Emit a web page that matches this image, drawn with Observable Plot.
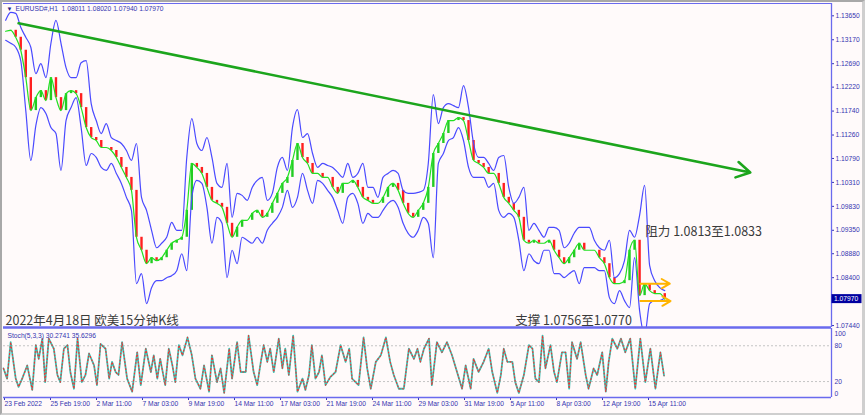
<!DOCTYPE html>
<html><head><meta charset="utf-8">
<script src="https://cdn.jsdelivr.net/npm/d3@7"></script>
<script src="https://cdn.jsdelivr.net/npm/@observablehq/plot@0.6"></script>
<style>
body{margin:0;background:#fffafa;}
#wrap{position:relative;width:865px;height:415px;background:#fffafa;overflow:hidden;font-family:"Liberation Sans",sans-serif;}
#wrap svg{position:absolute;left:0;}
#border{position:absolute;left:0;top:0;width:860px;height:411px;border-left:2px solid #a8a8a8;border-top:2px solid #a8a8a8;border-right:3px solid #cfcfcf;border-bottom:2px solid #cfcfcf;pointer-events:none;}
</style></head><body><div id="wrap"><div id="border"></div></div>
<script>
// ---- data: hourly EURUSD, one sample every 7 bars (bar index = 3 + 7*i) ----
const midPrice = [
1.1334,1.1336,1.1322,1.1296,1.1241,1.1175,1.1201,1.1215,1.1195,1.1241,
1.1201,1.1175,1.1209,1.1215,1.1209,1.1181,1.1141,1.1121,1.1115,1.1101,
1.1101,1.1095,1.1081,1.1061,1.1041,1.1015,1.0921,1.0895,1.0868,1.0880,
1.0874,1.0880,1.0895,1.0909,1.0915,1.0921,1.0975,1.1069,1.1061,1.1049,
1.1021,1.0995,1.0989,1.0981,1.0949,1.0921,1.0941,1.0955,1.0955,1.0969,
1.0975,1.0961,1.0969,1.0989,1.1009,1.1029,1.1041,1.1075,1.1109,1.1081,
1.1069,1.1049,1.1049,1.1041,1.1041,1.1021,1.1009,1.1029,1.1029,1.1035,
1.1021,1.1001,1.0995,1.0989,1.0989,1.1001,1.1021,1.1029,1.1015,1.0989,
1.0969,1.0961,1.0975,1.0989,1.1021,1.1089,1.1109,1.1129,1.1155,1.1155,
1.1161,1.1155,1.1115,1.1075,1.1069,1.1061,1.1049,1.1049,1.1029,1.1001,
1.0989,1.0975,1.0961,1.0915,1.0909,1.0915,1.0909,1.0909,1.0915,1.0895,
1.0880,1.0868,1.0880,1.0895,1.0909,1.0895,1.0895,1.0895,1.0880,1.0868,
1.0840,1.0828,1.0828,1.0834,1.0895,1.0915,1.0804,1.0828,1.0814,1.0808,
1.0808,1.0797];
const upperBand = [
1.1356,1.1372,1.1370,1.1342,1.1322,1.1302,1.1249,1.1269,1.1241,1.1310,
1.1356,1.1310,1.1261,1.1241,1.1241,1.1271,1.1275,1.1189,1.1155,1.1129,
1.1149,1.1121,1.1115,1.1109,1.1095,1.1075,1.1109,1.1001,1.0975,1.0935,
1.0900,1.0909,1.0921,1.0951,1.0935,1.0935,1.1081,1.1159,1.1109,1.1095,
1.1121,1.1081,1.1029,1.1021,1.1069,1.0961,1.1009,1.1005,1.0995,1.1021,
1.1035,1.1041,1.0995,1.1009,1.1061,1.1081,1.1055,1.1141,1.1177,1.1121,
1.1129,1.1089,1.1061,1.1069,1.1065,1.1061,1.1051,1.1041,1.1069,1.1041,
1.1049,1.1069,1.1021,1.1021,1.1001,1.1041,1.1049,1.1055,1.1049,1.1015,
1.1009,1.1009,1.1011,1.1015,1.1069,1.1207,1.1149,1.1181,1.1189,1.1185,
1.1181,1.1225,1.1181,1.1109,1.1081,1.1081,1.1069,1.1055,1.1081,1.1085,
1.1021,1.0989,1.1001,1.1021,1.0935,1.0949,1.0935,1.0921,1.0941,1.0941,
1.0935,1.0900,1.0909,1.0929,1.0941,1.0941,1.0941,1.0915,1.0900,1.0895,
1.0915,1.0840,1.0848,1.0874,1.0935,1.0921,1.0965,1.1025,1.0864,1.0834,
1.0820,1.0814];
const lowerBand = [
1.1316,1.1310,1.1302,1.1275,1.1175,1.1075,1.1145,1.1181,1.1169,1.1141,
1.1129,1.1055,1.1155,1.1181,1.1201,1.1141,1.1065,1.1089,1.1081,1.1061,
1.1055,1.1069,1.1049,1.1029,1.1001,1.0975,1.0828,1.0848,1.0788,1.0820,
1.0834,1.0834,1.0840,1.0844,1.0854,1.0888,1.0854,1.1001,1.1035,1.1029,
1.0981,1.0909,1.0961,1.0949,1.0840,1.0895,1.0868,1.0921,1.0915,1.0909,
1.0921,1.0909,1.0935,1.0949,1.0961,1.0981,1.1015,1.0981,1.1001,1.1049,
1.1015,1.0989,1.1035,1.1029,1.1015,1.1001,1.0975,1.0949,1.1001,1.1009,
1.0989,1.0949,1.0969,1.0961,1.0961,1.0975,1.0989,1.0995,1.0981,1.0949,
1.0929,1.0921,1.0935,1.0961,1.0949,1.0880,1.1069,1.1089,1.1115,1.1121,
1.1141,1.1115,1.1061,1.1041,1.1041,1.1041,1.1021,1.1029,1.0975,1.0961,
1.0969,1.0961,1.0915,1.0854,1.0888,1.0874,1.0868,1.0895,1.0895,1.0848,
1.0848,1.0840,1.0848,1.0854,1.0828,1.0860,1.0860,1.0860,1.0854,1.0854,
1.0800,1.0788,1.0814,1.0794,1.0780,1.0880,1.0774,1.0724,1.0788,1.0794,
1.0794,1.0800];

// Stochastic(5,3,3) %K: [bar index, value]
const stochK = [
[0,42],[5,25],[10,86],[17,25],[21,11],[26,25],[33,47],[40,6],[45,81],[49,58],
[54,92],[58,19],[63,92],[70,75],[75,31],[79,19],[84,75],[89,81],[93,36],[98,8],
[103,92],[109,19],[114,31],[119,67],[126,47],[130,14],[135,83],[142,75],[147,25],[151,53],
[156,36],[160,31],[165,86],[172,25],[179,3],[186,69],[191,14],[198,75],[205,36],[209,64],
[214,25],[218,58],[225,14],[230,75],[235,47],[239,19],[244,81],[249,64],[256,94],[262,64],
[267,25],[274,8],[279,47],[286,3],[290,64],[297,19],[302,42],[307,1],[314,75],[318,25],
[325,86],[330,36],[337,36],[341,97],[348,36],[353,14],[358,53],[362,81],[367,53],[371,75],
[376,36],[383,92],[388,42],[392,75],[397,31],[403,97],[409,3],[416,25],[420,6],[425,31],
[429,81],[434,25],[439,36],[443,64],[448,14],[455,28],[462,36],[469,81],[476,53],[481,75],
[485,25],[494,14],[501,94],[506,42],[511,8],[518,53],[525,64],[532,94],[538,53],[543,31],
[550,8],[557,8],[564,75],[571,58],[576,75],[580,53],[585,75],[592,92],[596,14],[603,86],
[610,69],[617,86],[624,64],[631,36],[638,8],[643,47],[650,8],[654,58],[661,36],[668,53],
[675,75],[680,36],[687,1],[692,31],[696,75],[701,53],[708,53],[712,19],[717,1],[724,31],
[731,81],[736,75],[740,25],[745,19],[750,97],[754,42],[761,81],[766,36],[770,19],[777,69],
[782,69],[787,8],[791,86],[798,58],[803,86],[810,31],[814,8],[821,42],[826,31],[833,69],
[838,3],[842,53],[847,92],[854,75],[859,92],[865,69],[872,92],[879,8],[886,92],[893,19],
[900,75],[907,8],[914,69],[919,30]];

const priceTicks = [1.13650,1.13170,1.12690,1.12220,1.11740,1.11260,1.10790,1.10310,1.09830,1.09350,1.08880,1.08400,1.07440];
const lastClose = 1.07970;
const stochTicks = [0,20,80,100];
const stochLevels = [80,20];
const dateBars = [0,64,128,192,256,320,384,448,512,576,640,704,768,832,896];
const dateLabels = ["23 Feb 2022","25 Feb 19:00","2 Mar 11:00","7 Mar 03:00","9 Mar 19:00","14 Mar 11:00","17 Mar 03:00","21 Mar 19:00","24 Mar 11:00","29 Mar 03:00","31 Mar 19:00","5 Apr 11:00","8 Apr 03:00","12 Apr 19:00","15 Apr 11:00"];
const headerText = "EURUSD#,H1  1.08011 1.08020 1.07940 1.07970";
const stochText = "Stoch(5,3,3) 30.2741 35.6296";
const titleText = "2022年4月18日 欧美15分钟K线";
const supportText = "支撑 1.0756至1.0770";
const resistText = "阻力 1.0813至1.0833";
const trendLine = [{bar1: 21, p1: 1.1350, bar2: 1039, p2: 1.1051}];
const orangeArrows = [{from: 886, to: 927, p: 1.0828}, {from: 886, to: 928, p: 1.0793}];
const supportAt = [{bar: 712}];
const resistAt = [{bar: 893, p: 1.0931}];

// ---- layout ----
const W = 865;
const BLUE = "#6a6aee", TXT = "#3434b0";
const xDomain = [0, 1152];
const yDomain = [1.07401, 1.13897];
const sDomain = [-6.7, 108.9];
const CJK = "Noto Sans CJK SC";

const samples = midPrice.map((p, i) => ({bar: 3 + 7 * i, mid: p, up: upperBand[i], lo: lowerBand[i]}));
const ribbon = samples.slice(1).map((d, i) => ({bar: d.bar, a: samples[i].mid, b: d.mid}));

const main = Plot.plot({
  width: W, height: 328, marginLeft: 3, marginRight: 34, marginTop: 3, marginBottom: 1,
  x: {domain: xDomain, axis: null},
  y: {domain: yDomain},
  style: {background: "transparent", color: TXT, fontFamily: "Liberation Sans, sans-serif", overflow: "visible"},
  marks: [
    Plot.ruleX(ribbon, {x: "bar", y1: "a", y2: "b", stroke: d => d.b >= d.a ? "#22cc22" : "#ff1f1f", strokeWidth: 2.4, clip: true}),
    Plot.lineY(samples, {x: "bar", y: "up", stroke: "#4a4aff", strokeWidth: 1.2, curve: "monotone-x", clip: true}),
    Plot.lineY(samples, {x: "bar", y: "lo", stroke: "#4a4aff", strokeWidth: 1.2, curve: "monotone-x", clip: true}),
    Plot.lineY(samples, {x: "bar", y: "mid", stroke: "#22e022", strokeWidth: 1.2, curve: "monotone-x", clip: true}),
    Plot.arrow(trendLine, {x1: "bar1", y1: "p1", x2: "bar2", y2: "p2", stroke: "#1ca51c", strokeWidth: 2.6, headLength: 9}),
    Plot.arrow(orangeArrows, {x1: "from", y1: "p", x2: "to", y2: "p", stroke: "#ffb400", strokeWidth: 2, headLength: 7}),
    Plot.text([headerText], {frameAnchor: "top-left", dx: 12, dy: 5.5, text: d => d, fontSize: 6.7, fill: TXT, textAnchor: "start", lineAnchor: "middle"}),
    Plot.text(["▼"], {frameAnchor: "top-left", dx: 3, dy: 5.5, text: d => d, fontSize: 6, fill: "#222288", textAnchor: "start", lineAnchor: "middle"}),
    Plot.text([titleText], {frameAnchor: "bottom-left", dx: 2, dy: -3, text: d => d, fontSize: 12.5, fontFamily: CJK, fill: "#3a3a3a", textAnchor: "start", lineAnchor: "bottom"}),
    Plot.text(supportAt, {x: "bar", frameAnchor: "bottom", dy: -3, text: () => supportText, fontSize: 12.5, fontFamily: CJK, fill: "#3a3a3a", textAnchor: "start", lineAnchor: "bottom"}),
    Plot.text(resistAt, {x: "bar", y: "p", text: () => resistText, fontSize: 12.5, fontFamily: CJK, fill: "#3a3a3a", textAnchor: "start", lineAnchor: "middle"}),
    Plot.axisY({ticks: priceTicks, anchor: "right", tickSize: 2, tickPadding: 2, tickFormat: d3.format(".5f"), fontSize: 6.7, label: null}),
    Plot.ruleX([xDomain[1]], {stroke: BLUE, strokeWidth: 1.3}),
    Plot.ruleY([yDomain[1]], {stroke: BLUE, strokeWidth: 1}),
    Plot.ruleY([yDomain[0]], {stroke: BLUE, strokeWidth: 2.6})
  ]
});
main.style.top = "0px";

// current price tag on the price axis
{
  const yy = main.scale("y").apply(lastClose);
  const g = d3.select(main).append("g").attr("text-anchor", "start");
  g.append("rect").attr("x", 831.5).attr("y", yy - 4.5).attr("width", 30).attr("height", 9).attr("fill", "#0000a0");
  g.append("text").attr("x", 834).attr("y", yy + 2.4).attr("font-size", 6.7).attr("fill", "#ffffff")
    .attr("text-anchor", "start").attr("font-family", "Liberation Sans, sans-serif").text(d3.format(".5f")(lastClose));
}

const stoch = Plot.plot({
  width: W, height: 88, marginLeft: 3, marginRight: 34, marginTop: 1, marginBottom: 18,
  x: {domain: xDomain},
  y: {domain: sDomain, axis: null},
  style: {background: "transparent", color: TXT, fontFamily: "Liberation Sans, sans-serif", overflow: "visible"},
  marks: [
    Plot.ruleY(stochLevels, {stroke: "#c4c4c4", strokeDasharray: "2,2"}),
    Plot.lineY(stochK, {x: d => d[0], y: d => d[1], stroke: "#3cc0b2", strokeWidth: 1.8}),
    Plot.lineY(stochK, {x: d => d[0], y: d => d[1], stroke: "#ff2a2a", strokeWidth: 1.1, strokeDasharray: "1,2.5"}),
    Plot.text([stochText], {frameAnchor: "top-left", dx: 4, dy: 7, text: d => d, fontSize: 6.7, fill: TXT, textAnchor: "start", lineAnchor: "middle"}),
    Plot.axisY({ticks: stochTicks, anchor: "right", tickSize: 0, tickPadding: 3, fontSize: 6.7, label: null}),
    Plot.axisX({ticks: dateBars, tickFormat: d => dateLabels[dateBars.indexOf(d)], tickSize: 3, tickPadding: 1, textAnchor: "start", dx: 1, fontSize: 6.7, label: null}),
    Plot.ruleX([xDomain[1]], {stroke: BLUE, strokeWidth: 1.3}),
    Plot.ruleY([sDomain[0]], {stroke: BLUE, strokeWidth: 1.6})
  ]
});
stoch.style.top = "327px";

const wrap = document.getElementById("wrap");
wrap.insertBefore(stoch, wrap.firstChild);
wrap.insertBefore(main, wrap.firstChild);
</script>
</body></html>
